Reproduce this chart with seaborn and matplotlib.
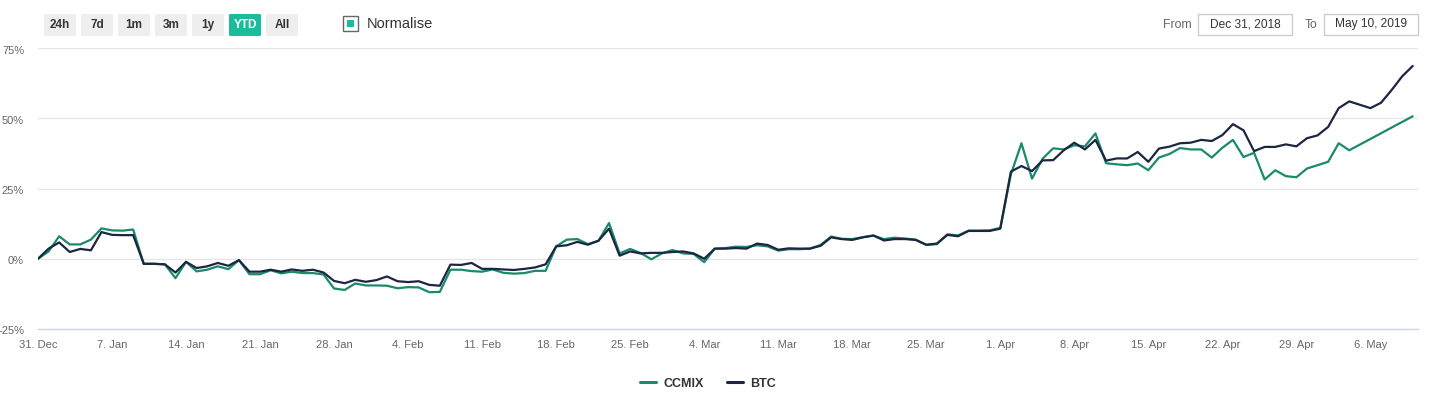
import pandas as pd
import matplotlib
matplotlib.use("Agg")
import matplotlib.pyplot as plt
import matplotlib.dates as mdates
import matplotlib.transforms as mtransforms
from matplotlib.patches import Rectangle, FancyBboxPatch
import seaborn as sns

# --- data (percent change since 31 Dec 2018) ---
start_date = "2018-12-31"
end_date = "2019-05-10"

btc = [0, 3.6, 5.8, 2.4, 3.5, 3.0, 9.5, 8.5, 8.4, 8.4,
       -1.8, -1.8, -2.0, -4.9, -1.1, -3.3, -2.7, -1.5, -2.5, -0.5,
       -4.6, -4.6, -3.9, -4.6, -3.8, -4.3, -3.9, -4.9, -7.9, -8.7,
       -7.5, -8.2, -7.6, -6.3, -8.0, -8.3, -8.0, -9.3, -9.6, -2.1,
       -2.2, -1.5, -3.6, -3.6, -3.8, -4.0, -3.6, -3.1, -2.0, 4.4,
       4.8, 6.0, 5.0, 6.4, 10.7, 1.1, 2.6, 1.9, 2.1, 2.1,
       2.4, 2.6, 1.9, 0.0, 3.6, 3.6, 3.8, 3.6, 5.4, 4.9,
       3.2, 3.7, 3.6, 3.6, 4.6, 7.6, 7.0, 6.7, 7.6, 8.3,
       6.5, 7.0, 7.0, 6.7, 5.0, 5.4, 8.5, 8.0, 9.9, 9.9,
       9.9, 10.7, 31.0, 33.0, 31.2, 35.0, 35.1, 38.6, 41.3, 38.9,
       42.3, 34.9, 35.7, 35.7, 38.0, 34.5, 39.2, 39.9, 41.1, 41.3,
       42.3, 41.9, 44.0, 47.9, 45.7, 38.3, 39.8, 39.8, 40.7, 40.0,
       42.9, 43.9, 46.9, 53.6, 56.0, 54.8, 53.6, 55.5, 60.0, 64.9,
       68.6]

# CCMIX has no values for 5-9 May, the line simply joins 4 May to 10 May
ccmix = [0, 2.6, 8.0, 5.1, 5.1, 6.8, 10.8, 10.1, 10.0, 10.4,
         -1.8, -1.8, -2.0, -6.9, -1.1, -4.5, -3.9, -2.7, -3.7, -0.5,
         -5.5, -5.5, -4.1, -5.2, -4.6, -5.1, -5.1, -5.6, -10.6, -11.1,
         -8.8, -9.5, -9.5, -9.6, -10.5, -10.1, -10.2, -11.9, -11.8, -3.9,
         -3.9, -4.4, -4.6, -3.8, -5.0, -5.3, -5.1, -4.3, -4.3, 4.4,
         6.8, 7.0, 5.2, 6.4, 12.7, 1.9, 3.5, 2.0, -0.2, 1.9,
         3.1, 1.9, 1.7, -1.2, 3.6, 3.8, 4.3, 4.2, 4.8, 4.4,
         2.9, 3.4, 3.4, 3.6, 4.9, 7.9, 7.1, 7.0, 7.7, 8.2,
         7.0, 7.5, 7.2, 6.8, 4.9, 5.2, 8.7, 8.3, 10.0, 10.0,
         10.1, 11.0, 30.0, 41.1, 28.5, 35.6, 39.3, 38.9, 40.4, 40.0,
         44.6, 34.0, 33.6, 33.3, 33.9, 31.5, 36.0, 37.3, 39.4, 38.9,
         38.9, 36.0, 39.5, 42.3, 36.2, 37.7, 28.2, 31.5, 29.4, 29.0,
         32.1, 33.3, 34.5, 41.1, 38.6,
         50.7]

series_names = ["CCMIX", "BTC"]
series_colors = ["#1a8a6c", "#1c2640"]
y_ticks = [-25, 0, 25, 50, 75]
range_buttons = ["24h", "7d", "1m", "3m", "1y", "YTD", "All"]
active_button = "YTD"
from_label = "Dec 31, 2018"
to_label = "May 10, 2019"

# --- build long table ---
btc_dates = pd.date_range(start_date, end_date, freq="D")
ccmix_dates = list(btc_dates[:len(ccmix) - 1]) + [btc_dates[-1]]
df = pd.concat([
    pd.DataFrame({"date": ccmix_dates, "value": ccmix, "series": "CCMIX"}),
    pd.DataFrame({"date": btc_dates, "value": btc, "series": "BTC"}),
])

W, H = 1431, 397
sns.set_style("white")
plt.rcParams["font.family"] = ["Liberation Sans", "DejaVu Sans"]

fig = plt.figure(figsize=(W / 100, H / 100), dpi=100)
ax = fig.add_axes([38 / W, 1 - 329 / H, (1418 - 38) / W, (329 - 48) / H])

sns.lineplot(data=df, x="date", y="value", hue="series", hue_order=series_names,
             palette=series_colors, linewidth=1.6, ax=ax)

ax.set_ylim(-25, 75)
ax.set_xlim(pd.Timestamp(start_date), pd.Timestamp(end_date) + pd.Timedelta(hours=12))
ax.set_yticks(y_ticks)
ax.set_yticklabels([f"{t}%" for t in y_ticks])
ax.xaxis.set_major_locator(mdates.WeekdayLocator(byweekday=mdates.MO))
ax.xaxis.set_major_formatter(mdates.DateFormatter("%-d. %b"))
ax.set_xlabel("")
ax.set_ylabel("")

for t in y_ticks[1:]:
    ax.axhline(t, color="#e6e6e6", linewidth=1, zorder=0)

for side in ["top", "right", "left"]:
    ax.spines[side].set_visible(False)
ax.spines["bottom"].set_color("#ccd6eb")
ax.spines["bottom"].set_linewidth(1)
ax.tick_params(axis="x", length=6.5, width=1, color="#ccd6eb", labelsize=8,
               labelcolor="#666666", pad=1.5)
ax.tick_params(axis="y", length=0, labelsize=8, labelcolor="#666666", pad=10)
# nudge y labels a touch below their grid lines, like the original
shift = mtransforms.ScaledTranslation(0, -1.5 / 100, fig.dpi_scale_trans)
for lbl in ax.get_yticklabels():
    lbl.set_transform(lbl.get_transform() + shift)

# legend at the bottom
sns.move_legend(ax, "center", bbox_to_anchor=(0.5 - 20 / (1418 - 38), -0.195),
                ncol=2, frameon=False, title=None, fontsize=9,
                handlelength=1.3, columnspacing=1.8, handletextpad=0.6)
for txt in ax.get_legend().get_texts():
    txt.set_fontweight("bold")
    txt.set_color("#333333")
for line in ax.get_legend().get_lines():
    line.set_linewidth(2.2)


def fx(x):
    return x / W


def fy(y):
    return 1 - y / H


# range buttons
bx = 44
for name in range_buttons:
    active = name == active_button
    fig.patches.append(FancyBboxPatch((fx(bx), fy(36)), 32 / W, 22 / H,
                                      boxstyle="round,pad=0,rounding_size=0.002",
                                      transform=fig.transFigure,
                                      facecolor="#1bbc9b" if active else "#eeeeee",
                                      edgecolor="none"))
    fig.text(fx(bx + 16), fy(25), name, ha="center", va="center", fontsize=8.5,
             fontweight="bold", color="white" if active else "#333333")
    bx += 37

# normalise checkbox
fig.patches.append(Rectangle((fx(343), fy(31)), 15 / W, 15 / H, transform=fig.transFigure,
                             facecolor="white", edgecolor="#666666", linewidth=1))
fig.patches.append(Rectangle((fx(347), fy(27)), 7 / W, 7 / H, transform=fig.transFigure,
                             facecolor="#1bbc9b", edgecolor="none"))
fig.text(fx(367), fy(24.5), "Normalise", ha="left", va="center", fontsize=10.5,
         color="#333333")

# date range inputs
fig.text(fx(1192), fy(24.5), "From", ha="right", va="center", fontsize=8.8, color="#666666")
fig.patches.append(Rectangle((fx(1198), fy(35)), 94 / W, 21 / H, transform=fig.transFigure,
                             facecolor="white", edgecolor="#cccccc", linewidth=1))
fig.text(fx(1245), fy(24.5), from_label, ha="center", va="center", fontsize=8.6,
         color="#333333")
fig.text(fx(1318), fy(24.5), "To", ha="right", va="center", fontsize=8.8, color="#666666")
fig.patches.append(Rectangle((fx(1324), fy(35)), 94 / W, 21 / H, transform=fig.transFigure,
                             facecolor="white", edgecolor="#cccccc", linewidth=1))
fig.text(fx(1371), fy(24.5), to_label, ha="center", va="center", fontsize=8.6,
         color="#333333")

fig.savefig("out.png", dpi=100, facecolor="white")
